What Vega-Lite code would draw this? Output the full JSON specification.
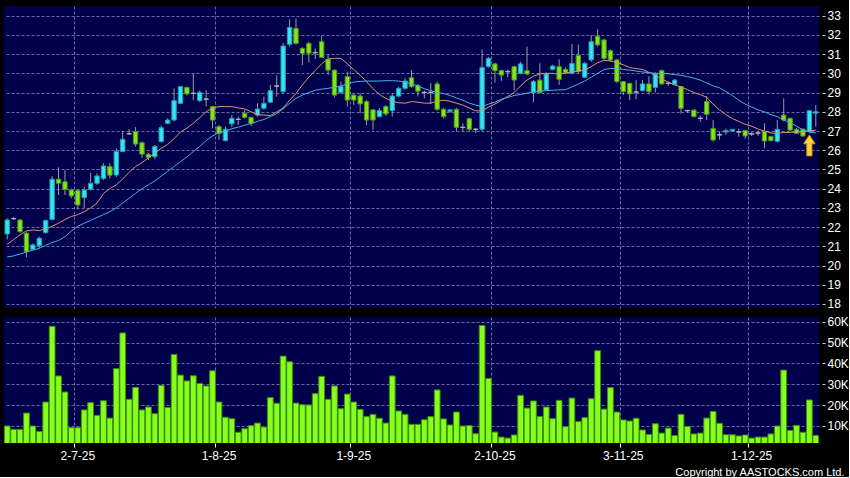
{
"$schema": "https://vega.github.io/schema/vega-lite/v6.json",
"background": "#000000",
"padding": {"left": 4, "top": 6, "right": 0, "bottom": 0},
"bounds": "flush",
"spacing": 9,
"config": {
  "view": {"stroke": null, "fill": "#00004b"},
  "axis": {"labelFont": "Liberation Sans", "labelFontSize": 12, "labelColor": "#ffffff", "gridColor": "#6b6ba8", "gridDash": [3, 2], "gridWidth": 1, "domain": false, "tickColor": "#c8c8c8", "labelOverlap": false}
},
"data": {"values": [
{"d":"2025-06-16","o":21.64,"h":22.46,"l":21.36,"c":22.37,"v":10000,"m1":21.1,"m2":20.45},
{"d":"2025-06-17","o":22.43,"h":22.52,"l":22.38,"c":22.45,"v":8400,"m1":21.35,"m2":20.5},
{"d":"2025-06-18","o":22.37,"h":22.4,"l":21.7,"c":21.76,"v":8400,"m1":21.6,"m2":20.6},
{"d":"2025-06-19","o":21.68,"h":21.75,"l":20.43,"c":20.72,"v":16200,"m1":21.8,"m2":20.7},
{"d":"2025-06-20","o":20.84,"h":21.15,"l":20.8,"c":21.07,"v":10000,"m1":21.85,"m2":20.8},
{"d":"2025-06-23","o":21.03,"h":21.5,"l":20.9,"c":21.42,"v":7400,"m1":21.82,"m2":20.9},
{"d":"2025-06-24","o":21.71,"h":22.4,"l":21.65,"c":22.34,"v":21500,"m1":21.9,"m2":21.05},
{"d":"2025-06-25","o":22.4,"h":24.65,"l":22.35,"c":24.49,"v":57800,"m1":22.05,"m2":21.2},
{"d":"2025-06-26","o":24.49,"h":25.11,"l":23.67,"c":24.28,"v":34000,"m1":22.2,"m2":21.3},
{"d":"2025-06-27","o":24.36,"h":24.97,"l":23.67,"c":23.96,"v":26300,"m1":22.4,"m2":21.5},
{"d":"2025-06-30","o":23.93,"h":24.0,"l":23.5,"c":23.62,"v":9200,"m1":22.55,"m2":21.8},
{"d":"2025-07-02","o":23.9,"h":23.95,"l":22.93,"c":23.15,"v":9200,"m1":22.65,"m2":22.05},
{"d":"2025-07-03","o":23.53,"h":24.1,"l":22.98,"c":23.93,"v":17700,"m1":22.8,"m2":22.2},
{"d":"2025-07-04","o":23.97,"h":24.83,"l":23.9,"c":24.28,"v":21200,"m1":23.0,"m2":22.35},
{"d":"2025-07-07","o":24.28,"h":24.8,"l":24.2,"c":24.66,"v":15100,"m1":23.25,"m2":22.5},
{"d":"2025-07-08","o":24.52,"h":25.32,"l":24.45,"c":25.18,"v":22100,"m1":23.75,"m2":22.65},
{"d":"2025-07-09","o":25.15,"h":25.32,"l":24.54,"c":24.7,"v":13800,"m1":24.0,"m2":22.8},
{"d":"2025-07-10","o":24.71,"h":26.1,"l":24.6,"c":25.93,"v":37500,"m1":24.2,"m2":23.0},
{"d":"2025-07-11","o":25.93,"h":27.0,"l":25.9,"c":26.57,"v":54600,"m1":24.5,"m2":23.25},
{"d":"2025-07-14","o":26.85,"h":27.1,"l":26.8,"c":26.86,"v":22800,"m1":24.85,"m2":23.5},
{"d":"2025-07-15","o":26.97,"h":27.2,"l":26.2,"c":26.32,"v":28500,"m1":25.15,"m2":23.75},
{"d":"2025-07-16","o":26.39,"h":26.45,"l":25.6,"c":25.8,"v":17700,"m1":25.35,"m2":24.0},
{"d":"2025-07-17","o":25.79,"h":25.85,"l":25.49,"c":25.63,"v":19100,"m1":25.6,"m2":24.2},
{"d":"2025-07-18","o":25.66,"h":26.27,"l":25.53,"c":26.19,"v":15900,"m1":25.85,"m2":24.4},
{"d":"2025-07-21","o":26.45,"h":27.3,"l":26.4,"c":27.17,"v":29500,"m1":26.1,"m2":24.65},
{"d":"2025-07-22","o":27.4,"h":27.66,"l":27.35,"c":27.57,"v":18900,"m1":26.3,"m2":24.9},
{"d":"2025-07-23","o":27.57,"h":29.22,"l":27.5,"c":28.58,"v":44300,"m1":26.6,"m2":25.15},
{"d":"2025-07-24","o":28.44,"h":29.34,"l":28.4,"c":29.31,"v":34400,"m1":26.95,"m2":25.4},
{"d":"2025-07-25","o":29.27,"h":29.3,"l":28.85,"c":28.93,"v":31600,"m1":27.15,"m2":25.65},
{"d":"2025-07-28","o":28.95,"h":29.98,"l":28.6,"c":28.97,"v":34100,"m1":27.4,"m2":25.93},
{"d":"2025-07-29","o":28.58,"h":29.1,"l":28.5,"c":29.01,"v":30400,"m1":27.7,"m2":26.2},
{"d":"2025-07-30","o":28.65,"h":29.13,"l":28.27,"c":28.67,"v":29200,"m1":28.0,"m2":26.5},
{"d":"2025-07-31","o":28.27,"h":28.3,"l":27.14,"c":27.57,"v":36500,"m1":28.2,"m2":26.75},
{"d":"2025-08-01","o":27.23,"h":27.3,"l":26.53,"c":26.88,"v":21500,"m1":28.27,"m2":26.9},
{"d":"2025-08-04","o":26.5,"h":27.23,"l":26.45,"c":27.09,"v":14200,"m1":28.27,"m2":27.0},
{"d":"2025-08-05","o":27.37,"h":27.83,"l":27.2,"c":27.66,"v":13500,"m1":28.27,"m2":27.12},
{"d":"2025-08-06","o":27.6,"h":27.75,"l":27.3,"c":27.62,"v":7000,"m1":28.2,"m2":27.2},
{"d":"2025-08-07","o":27.92,"h":28.1,"l":27.65,"c":27.71,"v":8700,"m1":28.15,"m2":27.3},
{"d":"2025-08-08","o":27.71,"h":27.75,"l":27.26,"c":27.4,"v":10200,"m1":28.0,"m2":27.4},
{"d":"2025-08-11","o":27.83,"h":28.44,"l":27.75,"c":28.14,"v":11400,"m1":27.85,"m2":27.5},
{"d":"2025-08-12","o":28.18,"h":28.79,"l":28.1,"c":28.44,"v":9500,"m1":27.83,"m2":27.6},
{"d":"2025-08-13","o":28.5,"h":29.4,"l":28.45,"c":29.1,"v":23600,"m1":27.8,"m2":27.75},
{"d":"2025-08-14","o":29.33,"h":29.9,"l":28.79,"c":29.35,"v":20900,"m1":28.0,"m2":27.9},
{"d":"2025-08-15","o":29.05,"h":31.6,"l":28.95,"c":31.42,"v":43500,"m1":28.2,"m2":28.15},
{"d":"2025-08-18","o":31.51,"h":32.81,"l":31.4,"c":32.39,"v":40800,"m1":28.6,"m2":28.45},
{"d":"2025-08-19","o":32.34,"h":32.86,"l":31.5,"c":31.56,"v":21000,"m1":28.95,"m2":28.7},
{"d":"2025-08-20","o":31.3,"h":31.35,"l":30.44,"c":31.04,"v":20200,"m1":29.4,"m2":28.87},
{"d":"2025-08-21","o":31.56,"h":31.65,"l":30.56,"c":31.04,"v":20100,"m1":29.8,"m2":29.0},
{"d":"2025-08-22","o":31.07,"h":31.3,"l":30.75,"c":31.09,"v":25500,"m1":30.15,"m2":29.12},
{"d":"2025-08-25","o":31.65,"h":31.95,"l":30.8,"c":30.83,"v":33800,"m1":30.5,"m2":29.18},
{"d":"2025-08-26","o":30.73,"h":30.95,"l":29.92,"c":30.17,"v":22800,"m1":30.75,"m2":29.22},
{"d":"2025-08-27","o":30.17,"h":30.2,"l":28.75,"c":28.87,"v":29200,"m1":30.78,"m2":29.28},
{"d":"2025-08-28","o":29.0,"h":29.57,"l":28.95,"c":29.31,"v":18300,"m1":30.78,"m2":29.34},
{"d":"2025-08-29","o":29.83,"h":30.09,"l":28.27,"c":28.61,"v":25300,"m1":30.5,"m2":29.45},
{"d":"2025-09-01","o":28.87,"h":28.96,"l":28.35,"c":28.61,"v":21500,"m1":30.2,"m2":29.55},
{"d":"2025-09-02","o":28.82,"h":28.96,"l":27.92,"c":28.41,"v":18000,"m1":29.9,"m2":29.58},
{"d":"2025-09-03","o":28.53,"h":28.6,"l":27.3,"c":27.57,"v":14500,"m1":29.57,"m2":29.6},
{"d":"2025-09-04","o":28.1,"h":28.15,"l":27.05,"c":27.57,"v":15600,"m1":29.2,"m2":29.6},
{"d":"2025-09-05","o":27.75,"h":28.2,"l":27.7,"c":28.06,"v":13700,"m1":28.9,"m2":29.6},
{"d":"2025-09-08","o":28.27,"h":28.35,"l":27.8,"c":27.89,"v":11400,"m1":28.7,"m2":29.62},
{"d":"2025-09-09","o":28.06,"h":28.96,"l":27.75,"c":28.82,"v":34000,"m1":28.55,"m2":29.62},
{"d":"2025-09-10","o":28.82,"h":29.3,"l":28.75,"c":29.22,"v":17200,"m1":28.47,"m2":29.6},
{"d":"2025-09-11","o":29.22,"h":29.74,"l":29.15,"c":29.6,"v":15600,"m1":28.45,"m2":29.55},
{"d":"2025-09-12","o":29.78,"h":30.17,"l":29.25,"c":29.31,"v":10800,"m1":28.53,"m2":29.45},
{"d":"2025-09-15","o":29.37,"h":29.45,"l":28.8,"c":29.07,"v":10800,"m1":28.5,"m2":29.35},
{"d":"2025-09-16","o":29.0,"h":29.1,"l":28.7,"c":29.02,"v":13000,"m1":28.45,"m2":29.2},
{"d":"2025-09-17","o":29.0,"h":29.5,"l":28.4,"c":29.02,"v":14500,"m1":28.45,"m2":29.1},
{"d":"2025-09-18","o":29.45,"h":29.57,"l":28.05,"c":28.13,"v":27300,"m1":28.55,"m2":29.0},
{"d":"2025-09-19","o":28.13,"h":28.2,"l":27.65,"c":27.75,"v":13400,"m1":28.6,"m2":28.95},
{"d":"2025-09-22","o":28.02,"h":28.15,"l":27.95,"c":28.1,"v":10500,"m1":28.55,"m2":28.85},
{"d":"2025-09-23","o":28.13,"h":28.2,"l":26.97,"c":27.19,"v":16700,"m1":28.45,"m2":28.72},
{"d":"2025-09-24","o":27.18,"h":27.4,"l":26.97,"c":27.2,"v":10000,"m1":28.35,"m2":28.6},
{"d":"2025-09-25","o":27.64,"h":27.7,"l":26.97,"c":27.09,"v":10200,"m1":28.2,"m2":28.45},
{"d":"2025-09-26","o":27.08,"h":27.15,"l":26.9,"c":27.1,"v":6300,"m1":28.05,"m2":28.35},
{"d":"2025-09-29","o":27.09,"h":31.25,"l":27.0,"c":30.31,"v":58200,"m1":28.05,"m2":28.27},
{"d":"2025-09-30","o":30.35,"h":30.85,"l":30.3,"c":30.78,"v":32800,"m1":28.25,"m2":28.4},
{"d":"2025-10-02","o":30.49,"h":30.55,"l":29.52,"c":30.14,"v":7100,"m1":28.4,"m2":28.5},
{"d":"2025-10-03","o":30.14,"h":30.2,"l":29.6,"c":29.91,"v":4700,"m1":28.6,"m2":28.65},
{"d":"2025-10-06","o":30.08,"h":30.2,"l":29.8,"c":30.1,"v":4200,"m1":28.8,"m2":28.75},
{"d":"2025-10-08","o":30.35,"h":30.4,"l":29.13,"c":29.65,"v":5700,"m1":29.0,"m2":28.85},
{"d":"2025-10-09","o":30.0,"h":30.6,"l":29.95,"c":30.49,"v":24700,"m1":29.35,"m2":28.9},
{"d":"2025-10-10","o":30.14,"h":31.39,"l":29.9,"c":29.97,"v":18600,"m1":29.65,"m2":28.97},
{"d":"2025-10-13","o":29.0,"h":29.65,"l":28.5,"c":29.57,"v":22000,"m1":29.85,"m2":29.03},
{"d":"2025-10-14","o":29.65,"h":30.52,"l":28.95,"c":29.0,"v":14500,"m1":29.97,"m2":29.08},
{"d":"2025-10-15","o":29.14,"h":30.05,"l":29.1,"c":29.97,"v":19100,"m1":30.0,"m2":29.1},
{"d":"2025-10-16","o":30.21,"h":30.45,"l":30.15,"c":30.38,"v":13500,"m1":30.0,"m2":29.12},
{"d":"2025-10-17","o":30.35,"h":30.73,"l":29.4,"c":29.69,"v":22300,"m1":29.95,"m2":29.14},
{"d":"2025-10-20","o":30.21,"h":30.3,"l":29.95,"c":30.04,"v":9700,"m1":30.02,"m2":29.15},
{"d":"2025-10-21","o":30.0,"h":31.53,"l":29.95,"c":30.52,"v":23400,"m1":30.08,"m2":29.3},
{"d":"2025-10-22","o":30.94,"h":31.5,"l":30.0,"c":30.09,"v":12100,"m1":30.12,"m2":29.45},
{"d":"2025-10-23","o":29.8,"h":30.6,"l":29.75,"c":30.52,"v":14000,"m1":30.17,"m2":29.6},
{"d":"2025-10-24","o":30.7,"h":32.0,"l":30.6,"c":31.65,"v":23100,"m1":30.35,"m2":29.8},
{"d":"2025-10-27","o":31.94,"h":32.3,"l":31.4,"c":31.48,"v":46100,"m1":30.55,"m2":30.0},
{"d":"2025-10-28","o":31.74,"h":31.8,"l":30.7,"c":30.78,"v":18100,"m1":30.68,"m2":30.2},
{"d":"2025-10-30","o":31.18,"h":31.25,"l":30.6,"c":30.7,"v":28400,"m1":30.65,"m2":30.25},
{"d":"2025-10-31","o":30.7,"h":30.75,"l":29.5,"c":29.57,"v":16700,"m1":30.55,"m2":30.25},
{"d":"2025-11-03","o":29.57,"h":29.6,"l":28.87,"c":29.05,"v":12900,"m1":30.45,"m2":30.2},
{"d":"2025-11-04","o":29.48,"h":29.5,"l":28.6,"c":28.93,"v":12400,"m1":30.3,"m2":30.17},
{"d":"2025-11-05","o":29.02,"h":29.65,"l":28.65,"c":29.04,"v":13700,"m1":30.25,"m2":30.12},
{"d":"2025-11-06","o":29.1,"h":29.65,"l":29.05,"c":29.45,"v":8100,"m1":30.2,"m2":30.07},
{"d":"2025-11-07","o":29.45,"h":29.85,"l":28.9,"c":29.05,"v":6000,"m1":30.05,"m2":30.04},
{"d":"2025-11-10","o":29.27,"h":30.05,"l":29.0,"c":29.97,"v":11100,"m1":29.9,"m2":30.0},
{"d":"2025-11-11","o":30.14,"h":30.2,"l":29.4,"c":29.45,"v":6600,"m1":29.7,"m2":30.0},
{"d":"2025-11-12","o":29.47,"h":29.55,"l":29.35,"c":29.49,"v":9000,"m1":29.55,"m2":29.98},
{"d":"2025-11-13","o":29.43,"h":29.7,"l":29.38,"c":29.65,"v":5400,"m1":29.4,"m2":29.93},
{"d":"2025-11-14","o":29.31,"h":29.35,"l":27.9,"c":28.18,"v":15600,"m1":29.3,"m2":29.9},
{"d":"2025-11-17","o":28.05,"h":28.1,"l":27.95,"c":28.07,"v":9800,"m1":29.15,"m2":29.83},
{"d":"2025-11-18","o":28.09,"h":28.12,"l":27.7,"c":27.75,"v":6200,"m1":29.0,"m2":29.75},
{"d":"2025-11-19","o":27.65,"h":27.8,"l":27.48,"c":27.67,"v":6600,"m1":28.9,"m2":29.65},
{"d":"2025-11-20","o":28.53,"h":28.82,"l":27.57,"c":27.87,"v":13800,"m1":28.75,"m2":29.5},
{"d":"2025-11-21","o":27.14,"h":27.57,"l":26.45,"c":26.53,"v":17000,"m1":28.4,"m2":29.35},
{"d":"2025-11-24","o":26.79,"h":26.97,"l":26.55,"c":26.81,"v":11300,"m1":28.1,"m2":29.25},
{"d":"2025-11-25","o":26.95,"h":27.12,"l":26.8,"c":27.02,"v":5800,"m1":27.85,"m2":29.05},
{"d":"2025-11-26","o":27.0,"h":27.12,"l":26.95,"c":27.08,"v":5800,"m1":27.65,"m2":28.85},
{"d":"2025-11-27","o":26.94,"h":27.12,"l":26.7,"c":26.96,"v":5200,"m1":27.5,"m2":28.6},
{"d":"2025-11-28","o":27.02,"h":27.05,"l":26.6,"c":26.74,"v":5700,"m1":27.35,"m2":28.4},
{"d":"2025-12-01","o":26.84,"h":26.95,"l":26.75,"c":26.86,"v":4200,"m1":27.25,"m2":28.25},
{"d":"2025-12-02","o":26.88,"h":27.0,"l":26.75,"c":26.9,"v":4700,"m1":27.1,"m2":28.1},
{"d":"2025-12-03","o":26.97,"h":27.4,"l":26.1,"c":26.48,"v":4700,"m1":27.0,"m2":28.0},
{"d":"2025-12-04","o":26.71,"h":26.75,"l":26.45,"c":26.5,"v":6200,"m1":26.9,"m2":27.85},
{"d":"2025-12-05","o":26.46,"h":27.57,"l":26.4,"c":27.09,"v":10000,"m1":26.88,"m2":27.75},
{"d":"2025-12-08","o":27.83,"h":28.7,"l":27.5,"c":27.57,"v":36800,"m1":26.92,"m2":27.57},
{"d":"2025-12-09","o":27.66,"h":27.7,"l":27.0,"c":27.05,"v":7900,"m1":26.93,"m2":27.45},
{"d":"2025-12-10","o":27.09,"h":27.15,"l":26.85,"c":26.88,"v":10300,"m1":26.95,"m2":27.25},
{"d":"2025-12-11","o":27.09,"h":27.15,"l":26.7,"c":26.74,"v":7000,"m1":26.97,"m2":27.05},
{"d":"2025-12-12","o":26.97,"h":28.1,"l":26.9,"c":28.06,"v":22500,"m1":27.0,"m2":26.95,"a":26.25},
{"d":"2025-12-15","o":27.93,"h":28.35,"l":27.23,"c":28.0,"v":5500,"m1":27.05,"m2":26.9}
]},
"vconcat": [
  {
    "width": 815,
    "height": 302,
    "encoding": {
      "x": {"field": "d", "type": "ordinal", "sort": null,
        "scale": {"type": "band", "paddingInner": 0, "paddingOuter": 0},
        "axis": {"values": ["2025-07-02","2025-08-01","2025-09-01","2025-10-02","2025-11-03","2025-12-01"], "bandPosition": 0, "labels": false, "ticks": false, "grid": true, "domain": false, "title": null}}
    },
    "layer": [
      {"mark": {"type": "rule", "color": "#9c9c9c", "strokeWidth": 1},
       "encoding": {
         "y": {"field": "l", "type": "quantitative", "scale": {"domain": [17.79, 33.505], "zero": false, "nice": false},
           "axis": {"orient": "right", "values": [18,19,20,21,22,23,24,25,26,27,28,29,30,31,32,33], "tickCount": 16, "offset": 3, "tickSize": 3, "labelPadding": 2, "labelOverlap": false, "grid": true, "domain": false, "title": null}},
         "y2": {"field": "h"}}},
      {"mark": {"type": "bar", "width": {"band": 0.68}, "strokeWidth": 1},
       "encoding": {
         "y": {"field": "o", "type": "quantitative", "scale": {"domain": [17.79, 33.505], "zero": false, "nice": false},
           "axis": {"orient": "right", "values": [18,19,20,21,22,23,24,25,26,27,28,29,30,31,32,33], "tickCount": 16, "offset": 3, "tickSize": 3, "labelPadding": 2, "labelOverlap": false, "grid": true, "domain": false, "title": null}},
         "y2": {"field": "c"},
         "fill": {"condition": [{"test": "abs(datum.c - datum.o) < 0.05", "value": "#a8b4c4"}, {"test": "datum.c > datum.o", "value": "#34e4f2"}], "value": "#84e41e"},
         "stroke": {"condition": [{"test": "abs(datum.c - datum.o) < 0.05", "value": "#a8b4c4"}, {"test": "datum.c > datum.o", "value": "#1f9fb0"}], "value": "#4c9a12"}}},
      {"mark": {"type": "line", "color": "#e0936a", "strokeWidth": 1},
       "encoding": {"y": {"field": "m1", "type": "quantitative", "scale": {"domain": [17.79, 33.505], "zero": false, "nice": false},
           "axis": {"orient": "right", "values": [18,19,20,21,22,23,24,25,26,27,28,29,30,31,32,33], "tickCount": 16, "offset": 3, "tickSize": 3, "labelPadding": 2, "labelOverlap": false, "grid": true, "domain": false, "title": null}}}},
      {"mark": {"type": "line", "color": "#4aaee8", "strokeWidth": 1},
       "encoding": {"y": {"field": "m2", "type": "quantitative", "scale": {"domain": [17.79, 33.505], "zero": false, "nice": false},
           "axis": {"orient": "right", "values": [18,19,20,21,22,23,24,25,26,27,28,29,30,31,32,33], "tickCount": 16, "offset": 3, "tickSize": 3, "labelPadding": 2, "labelOverlap": false, "grid": true, "domain": false, "title": null}}}},
      {"mark": {"type": "point", "shape": "M0,-1L0.55,-0.15L0.25,-0.15L0.25,1L-0.25,1L-0.25,-0.15L-0.55,-0.15Z", "filled": true, "size": 441, "fill": "#ffd43a", "stroke": "#c88a00", "strokeWidth": 1, "opacity": 1},
       "encoding": {"y": {"field": "a", "type": "quantitative", "scale": {"domain": [17.79, 33.505], "zero": false, "nice": false},
           "axis": {"orient": "right", "values": [18,19,20,21,22,23,24,25,26,27,28,29,30,31,32,33], "tickCount": 16, "offset": 3, "tickSize": 3, "labelPadding": 2, "labelOverlap": false, "grid": true, "domain": false, "title": null}}}}
    ]
  },
  {
    "width": 815,
    "height": 126,
    "mark": {"type": "bar", "width": {"band": 0.9}, "fill": "#86ff1e", "stroke": "#3d8c0c", "strokeWidth": 1, "clip": true},
    "encoding": {
      "x": {"field": "d", "type": "ordinal", "sort": null,
        "scale": {"type": "band", "paddingInner": 0, "paddingOuter": 0},
        "axis": {"values": ["2025-07-02","2025-08-01","2025-09-01","2025-10-02","2025-11-03","2025-12-01"], "bandPosition": 0, "labelExpr": "utcFormat(toDate(datum.value), '%-d-%-m-%y')", "labelAngle": 0, "labelAlign": "center", "labelBaseline": "top", "labelFlush": false, "labelPadding": 3, "ticks": true, "tickSize": 4, "tickColor": "#ffffff", "grid": true, "domain": false,
          "title": "Copyright by AASTOCKS.com Ltd.", "titleColor": "#ffffff", "titleFont": "Liberation Sans", "titleFontSize": 11, "titleFontWeight": "normal", "titleX": 840, "titleY": 32, "titleAlign": "right", "titleAnchor": "end", "titleBaseline": "alphabetic"}},
      "y": {"field": "v", "type": "quantitative", "scale": {"domain": [1850, 62250], "zero": false, "nice": false},
        "axis": {"orient": "right", "values": [10000, 20000, 30000, 40000, 50000, 60000], "labelExpr": "(datum.value / 1000) + 'K'", "offset": 3, "tickSize": 3, "labelPadding": 2, "labelOverlap": false, "grid": true, "domain": false, "title": null}}
    }
  }
]
}
